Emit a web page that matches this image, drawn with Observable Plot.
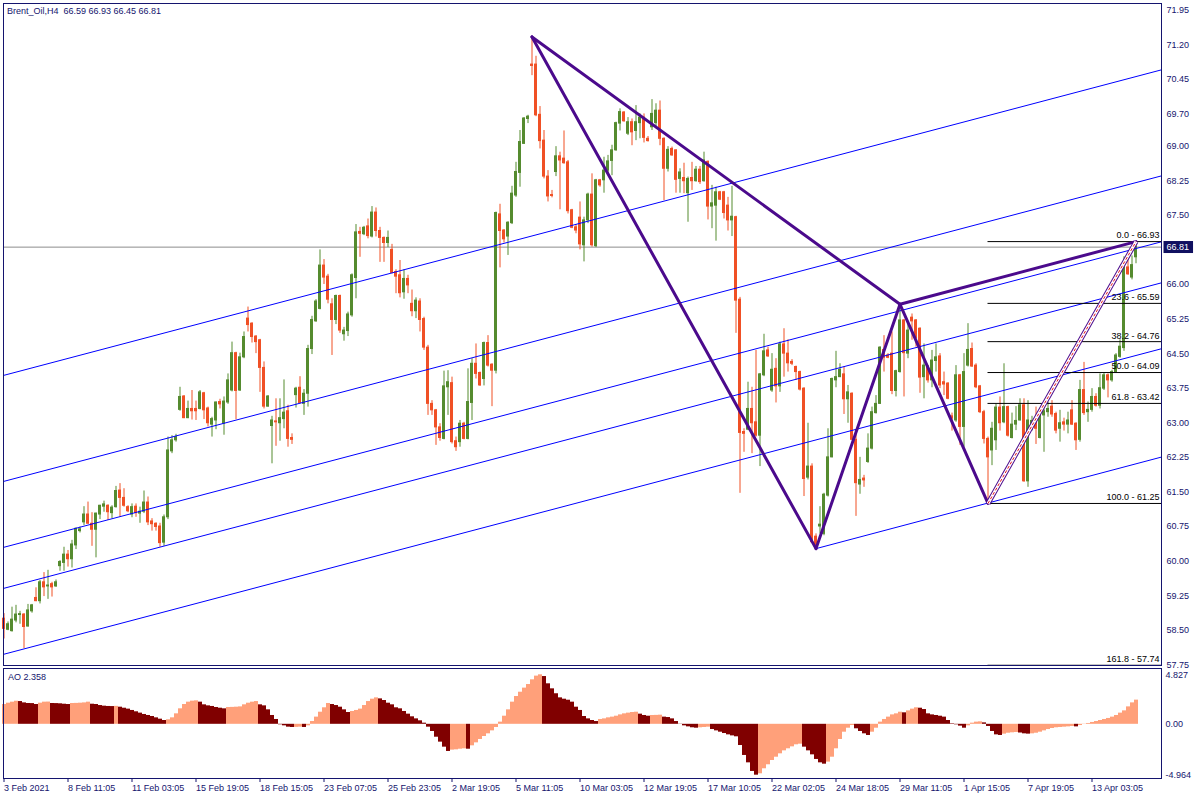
<!DOCTYPE html>
<html>
<head>
<meta charset="utf-8">
<script src="https://cdn.jsdelivr.net/npm/d3@7"></script>
<script src="https://cdn.jsdelivr.net/npm/@observablehq/plot@0.6"></script>
<style>
html,body{margin:0;padding:0;background:#fff;}
#chart{position:relative;width:1200px;height:800px;overflow:hidden;background:#fff;font-family:"Liberation Sans",Arial,sans-serif;}
#main,#ao{position:absolute;left:0;}
#main{top:0;} #ao{top:667px;}
.lbl{position:absolute;font-size:9px;color:#14146e;white-space:pre;line-height:11px;}
</style>
</head>
<body>
<div id="chart">
  <div id="main"></div>
  <div id="ao"></div>
  <div class="lbl" id="title" style="left:7px;top:6px"></div>
  <div class="lbl" id="aotitle" style="left:8px;top:672px"></div>
</div>
<script>
// ---------------- DATA ----------------
const symbol = "Brent_Oil", timeframe = "H4";
const open = [
58.75,58.51,58.48,58.71,58.83,58.84,58.58,58.91,59.20,59.13,
59.54,59.45,59.50,59.45,59.89,59.96,60.14,60.04,60.34,60.65,
60.84,61.01,60.81,60.68,61.01,61.18,61.20,61.04,61.17,61.53,
61.37,61.17,61.01,61.18,61.03,61.07,61.27,60.86,60.81,60.75,
60.40,60.95,62.38,62.62,63.28,63.57,63.10,63.30,63.30,63.30,
63.64,63.31,62.96,63.05,63.45,62.98,63.44,63.70,64.51,63.70,
64.42,65.26,65.15,64.87,64.79,64.19,63.35,62.93,63.03,62.99,
63.08,63.25,62.67,63.60,63.76,63.41,63.63,64.60,65.20,65.47,
66.41,66.17,65.57,65.23,65.75,64.92,64.99,65.33,66.14,67.14,
67.09,67.26,67.04,67.56,67.16,67.01,66.90,66.75,66.27,66.20,
65.83,66.12,65.58,65.42,65.63,65.25,64.63,63.41,63.27,62.90,
62.65,63.77,63.86,62.60,62.58,62.98,62.65,63.43,64.28,64.08,
63.95,64.73,64.26,64.13,67.52,67.17,67.04,67.33,67.93,68.42,
69.05,69.59,70.77,70.77,69.68,69.12,68.34,67.94,68.44,68.78,
68.73,68.65,67.61,67.24,67.45,66.85,67.39,67.95,66.83,68.26,
68.26,68.47,68.68,68.91,69.49,69.73,69.27,69.52,69.33,69.50,
69.62,69.16,69.41,69.50,69.77,69.16,68.51,68.94,68.91,68.29,
68.31,67.98,68.31,68.24,68.49,68.24,68.66,67.69,67.71,68.00,
68.00,67.71,67.39,67.46,65.67,62.80,62.85,63.30,63.01,62.72,
64.03,64.57,63.70,64.17,63.79,64.70,64.50,64.32,64.21,64.10,
63.74,61.81,62.05,60.53,60.75,60.59,61.42,62.25,63.92,63.99,
64.05,63.51,63.63,62.63,61.66,61.79,62.15,62.44,63.21,63.41,
64.58,64.46,64.50,63.69,64.10,65.22,64.50,65.28,65.22,65.04,
63.99,64.22,63.92,64.34,64.44,63.88,63.85,63.14,63.05,64.03,
62.91,64.24,64.60,64.24,63.79,63.23,62.65,62.40,62.62,63.33,
63.01,63.34,62.67,62.96,63.05,63.38,61.73,62.85,63.05,62.67,
63.16,63.23,63.35,63.19,62.87,63.01,62.96,63.27,62.98,62.63,
63.71,63.23,63.28,63.56,63.37,63.74,64.03,63.92,64.10,64.43,
64.62,66.37,66.15,66.59];
const high = [
58.86,58.68,59.00,59.04,58.91,58.86,59.06,59.06,59.42,59.58,
59.75,59.80,59.54,59.59,60.01,60.30,60.23,60.45,60.72,60.74,
61.18,61.28,61.05,61.04,61.21,61.30,61.22,61.20,61.62,61.68,
61.57,61.20,61.24,61.24,61.17,61.52,61.39,60.92,60.83,60.82,
61.00,62.69,62.72,62.75,63.77,63.59,63.47,63.70,63.47,63.70,
63.66,63.34,63.12,63.45,63.51,63.56,64.06,64.75,64.53,64.51,
64.97,65.51,65.17,64.89,64.81,64.32,63.59,63.14,63.52,63.52,
63.93,63.38,62.76,63.77,64.00,63.72,64.68,65.31,65.67,66.75,
66.54,66.22,65.69,65.77,65.77,65.07,65.40,66.23,67.30,67.24,
67.26,67.42,67.69,67.66,67.24,67.03,67.16,66.87,66.32,66.52,
66.32,66.20,65.88,65.71,65.69,65.29,64.68,63.48,63.29,62.98,
64.12,64.13,63.99,62.69,63.05,63.01,64.17,64.39,64.71,64.10,
64.75,64.89,64.28,67.57,67.74,67.19,67.36,68.13,68.65,69.34,
69.62,69.67,71.37,70.95,69.86,69.34,68.47,68.04,68.99,68.87,
69.33,68.69,67.63,67.30,67.79,67.46,67.98,68.40,68.28,68.28,
68.76,68.80,69.02,69.52,69.81,69.75,69.62,69.59,69.88,69.70,
69.70,69.21,70.01,69.92,69.98,69.18,68.99,68.98,68.92,68.51,
68.63,68.33,68.65,68.56,68.56,68.87,68.68,68.15,68.11,68.02,
68.02,67.89,68.13,67.48,65.72,62.87,63.88,63.77,64.57,64.07,
64.92,64.64,64.50,64.39,64.75,65.04,64.80,64.37,64.23,64.12,
63.76,62.99,62.11,60.59,61.18,61.47,62.87,63.97,64.55,64.28,
64.21,63.81,63.65,62.82,62.25,61.86,62.76,63.34,63.59,64.65,
64.89,64.50,64.97,64.14,65.58,65.24,65.16,65.36,65.24,65.06,
64.71,64.24,64.57,64.71,64.50,64.10,63.87,63.21,64.24,64.05,
64.50,65.15,64.73,64.28,63.81,63.27,62.69,63.01,63.40,63.56,
64.28,63.36,63.21,63.35,63.52,63.52,63.48,63.14,63.34,63.27,
63.30,63.45,63.48,63.23,63.27,63.10,63.23,63.48,63.00,63.92,
64.31,63.45,63.74,63.63,64.06,64.08,64.06,64.14,64.50,64.80,
66.60,66.70,66.62,66.93];
const low = [
58.31,58.49,58.46,58.66,58.63,58.10,58.57,58.87,59.12,59.07,
59.23,59.17,59.22,59.43,59.78,59.78,59.87,59.85,60.25,60.61,
60.77,60.80,60.32,60.07,60.90,61.06,60.88,60.92,61.15,60.95,
61.17,61.05,60.94,60.95,60.82,61.03,60.77,60.65,60.65,60.30,
60.32,60.90,62.33,62.58,63.25,63.09,63.09,63.06,63.05,63.28,
63.07,62.91,62.69,62.85,63.30,62.73,63.40,63.67,63.07,63.68,
64.39,64.97,64.73,64.50,63.66,63.30,63.34,62.11,62.49,62.60,
62.87,62.47,62.53,63.32,63.41,63.16,63.34,64.48,65.18,65.45,
66.00,65.58,64.46,65.13,64.94,64.77,64.87,65.29,65.69,66.59,
67.06,66.99,67.01,67.03,66.48,66.48,66.80,66.23,65.80,65.71,
65.68,65.80,65.30,65.26,64.97,64.57,63.16,63.16,62.51,62.60,
62.63,63.16,62.54,62.38,62.47,62.63,62.63,63.05,63.95,63.79,
63.80,64.21,63.35,64.06,66.36,66.90,66.63,67.30,67.89,68.11,
69.04,69.49,70.53,69.64,68.94,68.29,67.79,67.88,68.34,67.62,
68.61,67.53,67.21,67.10,66.75,66.49,67.32,66.81,66.80,68.11,
67.98,68.40,68.36,68.89,69.33,69.52,69.23,69.01,69.12,69.16,
69.07,69.09,69.34,69.38,69.01,67.82,68.44,68.78,67.98,67.98,
67.97,67.35,68.04,68.22,68.17,68.22,67.40,67.21,66.94,67.82,
67.42,67.16,67.04,64.94,61.47,62.36,62.83,62.33,62.69,62.05,
64.00,64.42,63.66,63.43,63.66,63.99,64.10,64.24,63.92,63.69,
61.40,61.76,60.39,60.27,60.59,60.55,61.39,62.24,63.76,63.98,
63.18,62.99,62.62,60.97,61.45,61.60,62.12,62.41,63.19,63.40,
64.10,64.39,63.61,63.56,64.08,63.56,64.39,64.79,64.64,63.64,
63.52,63.86,63.76,64.10,63.74,63.59,63.50,62.82,63.01,62.51,
62.47,64.21,64.20,63.74,63.20,62.54,61.25,62.07,62.40,62.82,
62.98,62.69,62.65,62.83,63.04,61.71,61.60,62.82,62.53,62.65,
62.36,63.12,63.12,62.76,62.58,62.82,62.76,62.94,62.40,62.58,
63.16,63.01,63.23,63.34,63.30,63.70,63.54,63.88,64.08,64.40,
64.55,66.20,66.10,66.45];
const close = [
58.53,58.63,58.73,58.84,58.85,58.57,58.93,59.04,59.13,59.54,
59.43,59.47,59.43,59.54,59.98,60.14,60.04,60.36,60.70,60.69,
61.01,60.81,60.68,61.03,61.20,61.23,61.06,61.16,61.52,61.37,
61.20,61.08,61.17,61.04,61.07,61.27,60.84,60.80,60.74,60.39,
60.95,62.40,62.62,62.69,63.56,63.10,63.30,63.25,63.25,63.66,
63.27,62.99,63.08,63.44,63.40,63.46,63.92,64.51,63.69,64.42,
64.86,65.12,64.86,64.75,64.19,63.35,63.57,63.05,63.01,63.10,
63.22,62.65,62.63,63.74,63.43,63.63,64.60,65.23,65.63,66.41,
66.15,65.67,65.23,65.75,65.00,65.00,65.35,66.20,67.13,67.10,
67.23,67.05,67.56,67.16,67.01,66.90,67.01,66.25,66.17,65.81,
66.12,65.98,65.42,65.65,65.23,64.63,63.41,63.27,62.90,62.67,
63.79,63.88,62.58,62.47,62.98,62.65,63.45,64.28,64.06,63.81,
64.73,64.24,64.13,67.55,67.16,66.98,67.34,67.97,68.44,69.09,
69.60,69.64,70.74,69.67,69.11,68.34,67.91,67.92,68.78,68.69,
68.63,67.59,67.23,67.17,66.87,67.39,67.95,66.85,68.26,68.15,
68.47,68.67,68.91,69.50,69.74,69.54,69.52,69.30,69.52,69.62,
69.18,69.11,69.70,69.77,69.16,68.51,68.92,68.80,68.27,68.43,
68.24,68.29,68.24,68.49,68.22,68.69,67.69,67.76,68.00,67.84,
67.55,67.39,67.47,65.65,62.78,62.76,63.30,62.99,62.72,64.05,
64.55,64.44,64.15,63.79,64.70,64.50,64.29,64.28,64.10,63.72,
61.78,62.05,60.41,60.34,60.79,61.44,62.25,63.95,63.99,64.15,
63.51,63.66,62.63,61.69,61.76,61.75,62.44,63.23,63.41,64.63,
64.41,64.41,63.69,64.12,65.22,64.51,65.00,65.20,64.84,63.98,
64.24,63.92,64.35,64.42,63.81,63.83,63.52,63.09,64.03,62.91,
64.10,64.58,64.22,63.77,63.23,62.65,62.25,62.87,63.33,62.99,
63.34,62.72,62.96,63.04,63.38,61.73,63.05,63.04,62.87,63.19,
63.25,63.30,63.18,62.83,62.99,62.96,63.05,62.96,62.62,63.71,
63.21,63.28,63.56,63.37,63.75,64.03,63.92,64.10,64.46,64.65,
66.37,66.22,66.42,66.81];
// Awesome Oscillator values, one per bar
const ao = [
1.93,2.06,2.16,2.25,2.22,2.09,2.03,2.02,1.93,2.06,
2.16,2.17,2.03,2.02,2.00,1.96,1.93,2.03,2.04,2.06,
2.09,2.16,1.96,1.93,1.83,1.77,1.74,1.73,1.75,1.67,
1.57,1.48,1.35,1.22,1.09,0.96,0.86,0.76,0.63,0.50,
0.37,0.44,0.63,1.02,1.51,1.93,2.16,2.26,2.29,2.16,
1.90,1.80,1.74,1.64,1.57,1.51,1.64,1.65,1.67,1.70,
1.90,2.06,2.16,2.22,1.90,1.80,1.41,0.86,0.47,-0.05,
-0.15,-0.28,-0.31,-0.30,-0.28,-0.31,-0.15,0.27,0.70,1.18,
1.61,2.03,1.93,1.83,1.67,1.41,1.15,1.25,1.35,1.48,
1.83,2.22,2.45,2.58,2.48,2.32,2.06,1.90,1.61,1.51,
1.25,0.99,0.73,0.53,0.34,0.11,-0.28,-0.70,-1.26,-1.74,
-2.23,-2.65,-2.52,-2.49,-2.43,-2.39,-2.43,-2.10,-1.81,-1.48,
-1.19,-0.93,-0.64,-0.31,0.21,0.79,1.41,2.16,2.71,3.13,
3.53,3.88,4.34,4.70,4.827,4.66,3.95,3.46,2.98,2.58,
2.45,2.35,2.16,1.67,1.35,0.76,0.53,0.37,0.27,0.47,
0.53,0.63,0.70,0.79,0.92,1.02,1.09,1.15,1.18,0.99,
0.86,0.79,0.86,0.87,0.89,0.70,0.66,0.53,0.27,-0.02,
-0.15,-0.25,-0.34,-0.38,-0.34,-0.31,-0.28,-0.51,-0.64,-0.77,
-0.90,-1.03,-1.13,-1.22,-2.07,-3.04,-3.76,-4.60,-4.964,-4.83,
-4.34,-3.95,-3.53,-3.21,-2.88,-2.59,-2.39,-2.20,-2.00,-1.94,
-2.23,-2.59,-2.98,-3.43,-3.76,-3.89,-3.69,-3.21,-2.39,-1.48,
-0.77,-0.38,-0.12,-0.44,-0.70,-0.93,-1.09,-0.77,-0.38,0.21,
0.47,0.70,0.92,1.02,1.18,1.12,1.31,1.48,1.61,1.57,
1.44,1.02,0.92,0.86,0.79,0.70,0.37,0.05,-0.05,-0.18,
-0.38,-0.15,0.11,0.21,0.24,0.14,-0.21,-0.70,-1.03,-1.09,
-0.96,-0.87,-0.83,-0.80,-0.85,-0.93,-0.96,-0.93,-0.87,-0.77,
-0.64,-0.51,-0.41,-0.34,-0.31,-0.28,-0.25,-0.21,-0.25,-0.12,
-0.02,0.08,0.18,0.27,0.37,0.47,0.57,0.70,0.86,1.09,
1.31,1.70,2.09,2.358];

// Time-axis labels (every 16th bar)
const dateBars = [0,16,32,48,64,80,96,112,128,144,160,176,192,208,224,240,256,272];
const dateLabels = ["3 Feb 2021","8 Feb 11:05","11 Feb 03:05","15 Feb 19:05","18 Feb 15:05","23 Feb 07:05",
  "25 Feb 23:05","2 Mar 19:05","5 Mar 11:05","10 Mar 03:05","12 Mar 19:05","17 Mar 10:05",
  "22 Mar 02:05","24 Mar 18:05","29 Mar 11:05","1 Apr 15:05","7 Apr 19:05","13 Apr 03:05"];
// Price-axis labels
const priceTicks = [71.95,71.20,70.45,69.70,69.00,68.25,67.50,66.00,65.25,64.50,63.75,63.00,62.25,61.50,60.75,60.00,59.25,58.50,57.75];
// AO axis labels
const aoTicks = [4.827, 0, -4.964];
const aoTickLabels = ["4.827","0.00","-4.964"];

// Parallel channel trendlines: anchor points (bar, price); ray = starts at anchor A
const chanBarA   = [0, 0, 0, 0, 0, 203];
const chanPriceA = [64.03, 61.73, 60.30, 59.41, 57.98, 60.27];
const chanBarB   = [283, 283, 283, 283, 283, 283];
const chanPriceB = [70.51, 68.21, 66.78, 65.89, 64.46, 62.11];
const chanRay    = [false, false, false, false, false, true];

// XABCD pattern points
const patName  = ["X","A","B","C","D"];
const patBar   = [132, 203, 224, 246, 283];
const patPrice = [71.37, 60.27, 65.57, 61.25, 66.93];
const patSegs  = [["X","A"],["A","B"],["B","C"],["X","B"],["B","D"]];

// Fibonacci retracement (C -> D)
const fibLevels = [0.0, 23.6, 38.2, 50.0, 61.8, 100.0, 161.8];
const fibPrices = [66.93, 65.59, 64.76, 64.09, 63.42, 61.25, 57.74];
const fibStartBar = 246;

// ---------------- STYLE / LAYOUT ----------------
const xDomain = [-0.125, 289.375];
const mainY = [57.735, 72.095];
const aoY = [-5.288, 5.444];
const navy = "#14146e";
const upCol = "#558b2f", dnCol = "#f05025";
const font = {fontFamily: "'Liberation Sans', Arial, sans-serif", fontSize: "9px", color: navy, background: "transparent", overflow: "visible"};

// ---------------- BUILD ----------------
const last = open.length - 1;
const candles = open.map((o, i) => ({i, o, h: high[i], l: low[i], c: close[i]}));
const bull = candles.filter(d => d.c >= d.o);
const bear = candles.filter(d => d.c < d.o);

const chans = chanBarA.map((b, k) => {
  const s = (chanPriceB[k] - chanPriceA[k]) / (chanBarB[k] - b);
  const x1 = chanRay[k] ? b : xDomain[0];
  const x2 = xDomain[1];
  return {x1, y1: chanPriceA[k] + s * (x1 - b), x2, y2: chanPriceA[k] + s * (x2 - b)};
});
const pt = Object.fromEntries(patName.map((n, k) => [n, {bar: patBar[k], price: patPrice[k]}]));
const segs = patSegs.map(([a, b]) => ({x1: pt[a].bar, y1: pt[a].price, x2: pt[b].bar, y2: pt[b].price}));
const cd = [{x1: pt.C.bar, y1: pt.C.price, x2: pt.D.bar, y2: pt.D.price}];
const fib = fibLevels.map((l, k) => ({l, p: fibPrices[k]}));
const lastClose = close[last];

const mainPlot = Plot.plot({
  width: 1200, height: 667,
  marginLeft: 3, marginRight: 39, marginTop: 3, marginBottom: 2,
  x: {domain: xDomain, axis: null, label: null},
  y: {domain: mainY, axis: null, label: null},
  style: font,
  marks: [
    Plot.ruleY([lastClose], {stroke: "#8c8c8c"}),
    Plot.ruleX(bull, {x: "i", y1: "l", y2: "h", stroke: upCol}),
    Plot.ruleX(bear, {x: "i", y1: "l", y2: "h", stroke: dnCol}),
    Plot.rect(bull, {x1: d => d.i - 0.375, x2: d => d.i + 0.375, y1: "o", y2: "c", fill: upCol, insetTop: -0.5, insetBottom: -0.5}),
    Plot.rect(bear, {x1: d => d.i - 0.375, x2: d => d.i + 0.375, y1: "o", y2: "c", fill: dnCol, insetTop: -0.5, insetBottom: -0.5}),
    Plot.link(chans, {x1: "x1", y1: "y1", x2: "x2", y2: "y2", stroke: "#0000ff", strokeWidth: 1, clip: true}),
    Plot.ruleY(fib, {y: "p", x1: fibStartBar, x2: xDomain[1], stroke: "#000000", strokeWidth: 1}),
    Plot.link(segs, {x1: "x1", y1: "y1", x2: "x2", y2: "y2", stroke: "#4b0a8c", strokeWidth: 3, strokeLinecap: "round", clip: true}),
    Plot.link(cd, {x1: "x1", y1: "y1", x2: "x2", y2: "y2", stroke: "#4b0a8c", strokeWidth: 5}),
    Plot.link(cd, {x1: "x1", y1: "y1", x2: "x2", y2: "y2", stroke: "#ffffff", strokeWidth: 3}),
    Plot.link(cd, {x1: "x1", y1: "y1", x2: "x2", y2: "y2", stroke: "#e8141e", strokeWidth: 1, strokeDasharray: "3,2"}),
    Plot.text(fib, {y: "p", frameAnchor: "right", text: d => `${d.l.toFixed(1)} - ${d.p.toFixed(2)}`, textAnchor: "end", dx: -2, dy: -6, fill: "#000000"}),
    Plot.axisY({anchor: "right", ticks: priceTicks, tickFormat: d => d.toFixed(2), tickSize: 0, tickPadding: 5, label: null}),
    Plot.text([lastClose], {y: d => d, frameAnchor: "right", text: d => d.toFixed(2), textAnchor: "start", dx: 5, fill: "#ffffff"}),
    Plot.frame({stroke: navy})
  ]
});
document.getElementById("main").appendChild(mainPlot);

// background box behind the current-price label
const lastLabel = lastClose.toFixed(2);
[...mainPlot.querySelectorAll("text")].filter(t => t.textContent === lastLabel).forEach(t => {
  const bb = t.getBBox();
  const r = document.createElementNS("http://www.w3.org/2000/svg", "rect");
  r.setAttribute("x", bb.x - 3); r.setAttribute("y", bb.y - 1);
  r.setAttribute("width", bb.width + 7); r.setAttribute("height", bb.height + 2);
  r.setAttribute("fill", "#101060");
  if (t.getAttribute("transform")) r.setAttribute("transform", t.getAttribute("transform"));
  t.parentNode.insertBefore(r, t);
});

const aoData = ao.map((v, i) => ({i, v, up: i === 0 || v >= ao[i - 1]}));
const aoPlot = Plot.plot({
  width: 1200, height: 133,
  marginLeft: 3, marginRight: 39, marginTop: 1, marginBottom: 22,
  x: {domain: xDomain, axis: null, label: null},
  y: {domain: aoY, axis: null, label: null},
  style: font,
  marks: [
    Plot.rect(aoData.filter(d => d.up), {x1: d => d.i - 0.375, x2: d => d.i + 0.625, y1: 0, y2: "v", fill: "#ffa07a"}),
    Plot.rect(aoData.filter(d => !d.up), {x1: d => d.i - 0.375, x2: d => d.i + 0.625, y1: 0, y2: "v", fill: "#800000"}),
    Plot.axisY({anchor: "right", ticks: aoTicks, tickFormat: d => aoTickLabels[aoTicks.indexOf(d)], tickSize: 0, tickPadding: 4, label: null}),
    Plot.axisX({anchor: "bottom", ticks: dateBars, tickFormat: d => dateLabels[dateBars.indexOf(d)], textAnchor: "start", tickSize: 4, tickPadding: 2, label: null}),
    Plot.frame({stroke: navy})
  ]
});
document.getElementById("ao").appendChild(aoPlot);

document.getElementById("title").textContent =
  `${symbol},${timeframe}  ${open[last].toFixed(2)} ${high[last].toFixed(2)} ${low[last].toFixed(2)} ${close[last].toFixed(2)}`;
document.getElementById("aotitle").textContent = `AO ${ao[last].toFixed(3)}`;
</script>
</body>
</html>
